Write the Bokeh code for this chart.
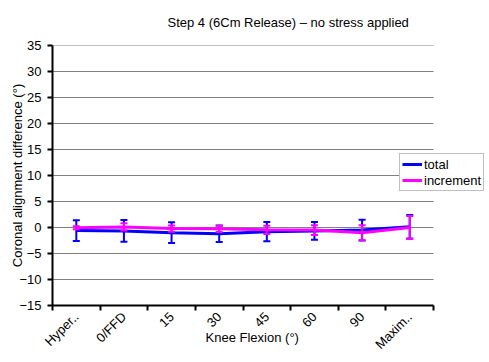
import math
from bokeh.plotting import figure
from bokeh.models import FixedTicker, Range1d, Legend, LegendItem
from bokeh.embed import file_html
from bokeh.resources import INLINE

categories = ["Hyper..", "0/FFD", "15", "30", "45", "60", "90", "Maxim.."]
total = [-0.6, -0.65, -1.0, -1.2, -0.8, -0.65, -0.5, 0.15]
total_err = [2.0, 2.1, 2.0, 1.6, 1.85, 1.7, 2.0, 2.25]
increment = [-0.05, 0.1, -0.2, -0.25, -0.45, -0.5, -1.0, 0.0]
increment_err = [0.3, 0.7, 0.6, 0.6, 0.8, 0.95, 1.45, 2.2]
y_ticks = [-15, -10, -5, 0, 5, 10, 15, 20, 25, 30, 35]

BLUE = "#0000FF"
MAGENTA = "#FF00FF"
FONT = "Liberation Sans"

n = len(categories)
xs = [i + 0.5 for i in range(n)]
bounds = list(range(n + 1))

# frame is extended to the right so the legend (which sits beside the plot area) is not clipped
p = figure(width=489, height=362, x_range=Range1d(0, 9.07), y_range=Range1d(-15, 35),
           output_backend="svg", toolbar_location=None,
           min_border_left=52, min_border_right=5, min_border_top=45, min_border_bottom=57)
p.outline_line_color = None
p.background_fill_color = "white"
p.border_fill_color = "white"

p.title.text = "Step 4 (6Cm Release) \u2013 no stress applied"
p.title.align = "left"
p.title.offset = 115
p.title.vertical_align = "top"
p.title.standoff = 28
p.title.text_font = FONT
p.title.text_font_size = "13px"
p.title.text_font_style = "normal"
p.title.text_color = "black"

p.xgrid.visible = False
p.ygrid.visible = False
# horizontal gridlines spanning only the category area
p.segment(x0=[bounds[0]] * len(y_ticks), x1=[bounds[-1]] * len(y_ticks), y0=y_ticks, y1=y_ticks,
          line_color="#808080", line_width=1)

p.yaxis.ticker = FixedTicker(ticks=y_ticks)
p.xaxis.ticker = FixedTicker(ticks=xs, minor_ticks=bounds)
p.xaxis.major_label_overrides = {x: c for x, c in zip(xs, categories)}
p.xaxis.major_label_orientation = math.pi / 4
p.xaxis.bounds = (bounds[0], bounds[-1])

for ax in (p.xaxis, p.yaxis):
    ax.axis_line_color = "black"
    ax.axis_line_width = 2
    ax.major_label_text_font = FONT
    ax.major_label_text_font_size = "13px"
    ax.major_label_text_color = "black"
    ax.axis_label_text_font = FONT
    ax.axis_label_text_font_size = "13px"
    ax.axis_label_text_font_style = "normal"
    ax.axis_label_text_color = "black"

p.yaxis.major_tick_out = 5
p.yaxis.major_tick_in = 0
p.yaxis.minor_tick_out = 0
p.yaxis.minor_tick_in = 0
p.yaxis.major_tick_line_width = 2
p.yaxis.major_label_standoff = 6
p.yaxis.axis_label = "Coronal alignment difference (\u00b0)"
p.yaxis.axis_label_standoff = -9

p.xaxis.major_tick_out = 0
p.xaxis.major_tick_in = 0
p.xaxis.minor_tick_out = 5
p.xaxis.minor_tick_in = 0
p.xaxis.minor_tick_line_color = "black"
p.xaxis.minor_tick_line_width = 2
p.xaxis.major_label_standoff = 4
p.xaxis.axis_label = "Knee Flexion (\u00b0)" + "\u00a0" * 9
p.xaxis.axis_label_standoff = -30


def series(vals, errs, color):
    lower = [v - e for v, e in zip(vals, errs)]
    upper = [v + e for v, e in zip(vals, errs)]
    line = p.line(xs, vals, line_color=color, line_width=3)
    p.segment(x0=xs, y0=lower, x1=xs, y1=upper, line_color=color, line_width=2)
    p.scatter(xs, upper, marker="dash", size=7, line_color=color, line_width=2)
    p.scatter(xs, lower, marker="dash", size=7, line_color=color, line_width=2)
    return line


r_total = series(total, total_err, BLUE)
r_inc = series(increment, increment_err, MAGENTA)

legend = Legend(items=[LegendItem(label="total", renderers=[r_total]),
                       LegendItem(label="increment", renderers=[r_inc])],
                location=(347, 114))
legend.label_text_font = FONT
legend.label_text_font_size = "13px"
legend.label_text_color = "black"
legend.glyph_width = 20
legend.glyph_height = 16
legend.label_height = 16
legend.label_standoff = 2
legend.padding = 2
legend.spacing = 0
legend.margin = 0
legend.border_line_color = "#808080"
legend.border_line_width = 1
legend.background_fill_color = "white"
legend.background_fill_alpha = 1
p.add_layout(legend, "center")

open("out.html", "w").write(file_html(p, INLINE))
